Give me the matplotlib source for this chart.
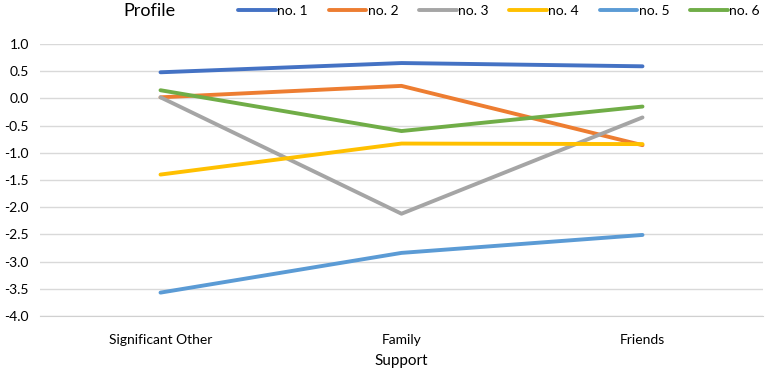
import matplotlib.pyplot as plt

plt.rcParams['font.family'] = ['Lato', 'DejaVu Sans']

categories = ['Significant Other', 'Family', 'Friends']
names = ['no. 1', 'no. 2', 'no. 3', 'no. 4', 'no. 5', 'no. 6']
values = [
    [0.48, 0.65, 0.59],
    [0.02, 0.23, -0.86],
    [0.02, -2.12, -0.35],
    [-1.40, -0.83, -0.84],
    [-3.57, -2.84, -2.51],
    [0.15, -0.60, -0.15],
]
colors = ['#4472C4', '#ED7D31', '#A5A5A5', '#FFC000', '#5B9BD5', '#70AD47']
yticks = [1.0, 0.5, 0.0, -0.5, -1.0, -1.5, -2.0, -2.5, -3.0, -3.5, -4.0]

fig = plt.figure(figsize=(7.65, 3.73), dpi=100)
ax = fig.add_axes([40 / 765, 57 / 373, 723 / 765, 272 / 373])

x = range(len(categories))
for name, vals, c in zip(names, values, colors):
    ax.plot(x, vals, color=c, lw=2.8, label=name, solid_capstyle='round')

ax.set_xlim(-0.5, 2.5)
ax.set_ylim(-4.0, 1.0)
ax.set_yticks(yticks)
ax.set_yticklabels(['%.1f' % v for v in yticks], fontsize=10)
ax.set_xticks(list(x))
ax.set_xticklabels(categories, fontsize=10)
ax.grid(axis='y', color='#D9D9D9', lw=1)
ax.set_axisbelow(True)
for s in ['top', 'right', 'left']:
    ax.spines[s].set_visible(False)
ax.spines['bottom'].set_color('#D0D0D0')
ax.tick_params(length=0, pad=13)
ax.tick_params(axis='y', pad=8)
ax.set_xlabel('Support', fontsize=11, labelpad=6)

fig.text(149 / 765, 1 - 11 / 373, 'Profile', fontsize=13, ha='center', va='center')
fig.legend(loc='center', bbox_to_anchor=(499 / 765, 1 - 11 / 373), ncol=6,
           frameon=False, fontsize=10, handlelength=2.7, handletextpad=0.1,
           columnspacing=1.5, borderaxespad=0)

fig.savefig('out.png', dpi=100)
